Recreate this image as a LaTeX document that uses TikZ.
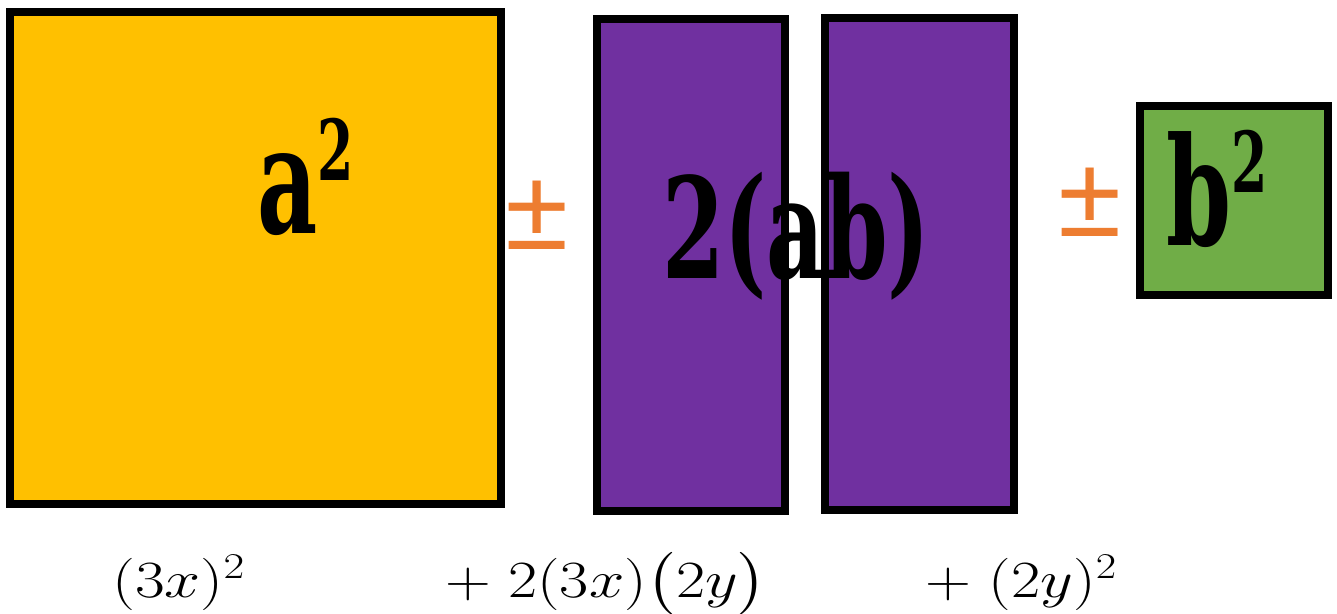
\documentclass[tikz,border=0pt]{standalone}
\usepackage{amsmath}
\usepackage{fontspec}
\usepackage{graphicx}
\newfontfamily\heavyfont{DejaVu Serif}
\newfontfamily\pmfont{Liberation Sans}
\definecolor{sqyellow}{HTML}{FFC000}
\definecolor{sqpurple}{HTML}{7030A0}
\definecolor{sqgreen}{HTML}{70AD47}
\definecolor{pmorange}{HTML}{ED7D31}
\tikzset{
  sqbox/.style={draw=black, line width=8pt, inner sep=0pt, outer sep=0pt},
  biglabel/.style={inner sep=0pt, anchor=base west, font=\heavyfont\bfseries\fontsize{150}{150}\selectfont},
  pmsign/.style={inner sep=0pt, text=pmorange, font=\pmfont\fontsize{115}{115}\selectfont},
  mathlabel/.style={inner sep=0pt, anchor=base west, font=\fontsize{24}{24}\selectfont}
}
\begin{document}
\begin{tikzpicture}[x=1pt,y=-1pt]
\useasboundingbox (0,0) rectangle (1337,613);
% squares and rectangles
\node[sqbox, fill=sqyellow, minimum width=491pt, minimum height=492pt] (asq) at (255.5,258) {};
\node[sqbox, fill=sqpurple, minimum width=188pt, minimum height=492pt] (ab1) at (691,265) {};
\node[sqbox, fill=sqpurple, minimum width=189pt, minimum height=492pt] (ab2) at (919.5,264) {};
\node[sqbox, fill=sqgreen, minimum width=188pt, minimum height=189pt] (bsq) at (1234,200.5) {};
% plus-minus signs
\node[pmsign] (pm1) at (537,215) {±};
\node[pmsign] (pm2) at (1090,202) {±};
% big labels
\node[biglabel] (alab) at (257,233) {\scalebox{0.62}[1]{a\raisebox{53pt}{\fontsize{84}{84}\selectfont 2}}};
\node[biglabel, font=\heavyfont\bfseries\fontsize{140}{140}\selectfont] (ablab) at (662,278) {\scalebox{0.64}[1]{2(ab)}};
\node[biglabel] (blab) at (1166,245) {\scalebox{0.62}[1]{b\raisebox{53pt}{\fontsize{84}{84}\selectfont 2}}};
% bottom expressions
\node[mathlabel] (e1) at (112,597) {\scalebox{2.6}[2.1]{$(3x)^2$}};
\node[mathlabel] (e2) at (445,597) {\scalebox{2.55}[2.1]{$+\;2(3x)\bigl(2y\bigr)$}};
\node[mathlabel] (e3) at (925,597) {\scalebox{2.56}[2.1]{$+\;(2y)^2$}};
\end{tikzpicture}
\end{document}
